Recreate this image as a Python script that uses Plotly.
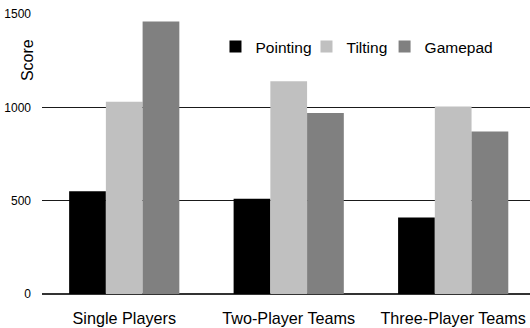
import plotly.graph_objects as go

categories = ["Single Players", "Two-Player Teams", "Three-Player Teams"]
pointing = [550, 510, 410]
tilting = [1030, 1140, 1005]
gamepad = [1460, 970, 870]
y_ticks = [0, 500, 1000, 1500]

font_family = "Liberation Sans, Arial, Helvetica, sans-serif"

series = [
    ("Pointing", pointing, "#000000", "legend", 0.3555),
    ("Tilting", tilting, "#c0c0c0", "legend2", 0.542),
    ("Gamepad", gamepad, "#808080", "legend3", 0.702),
]

fig = go.Figure()
legends = {}
for name, values, color, leg, lx in series:
    fig.add_trace(go.Bar(name=name, x=categories, y=values, legend=leg,
                         marker=dict(color=color, line=dict(width=0))))
    # one legend box per series so each entry sits at its own position
    legends[leg] = dict(orientation="h", x=lx, y=0.882, xanchor="left", yanchor="middle",
                        font=dict(size=15.5), itemwidth=30, bgcolor="rgba(0,0,0,0)")

fig.update_layout(
    width=530, height=328,
    margin=dict(l=42, r=0, t=14, b=34),
    paper_bgcolor="white", plot_bgcolor="white",
    barmode="group", bargap=0.33, bargroupgap=0,
    font=dict(family=font_family, color="#000000"),
    showlegend=True,
    **legends,
)
fig.update_xaxes(range=[-0.5, 2.467], showgrid=False, showline=False, zeroline=False,
                 tickfont=dict(size=16.2), ticks="", ticklabelstandoff=13)
fig.update_yaxes(range=[0, 1500], tickvals=y_ticks, showgrid=True, gridcolor="#1a1a1a",
                 gridwidth=1, zeroline=True, zerolinecolor="#333333", showline=False,
                 tickfont=dict(size=12), ticks="", ticklabelstandoff=10)
fig.add_annotation(text="Score", textangle=-90, xref="paper", yref="paper",
                   x=-0.031, y=0.835, xanchor="center", yanchor="middle",
                   showarrow=False, font=dict(size=16))

fig.write_html("out.html")
